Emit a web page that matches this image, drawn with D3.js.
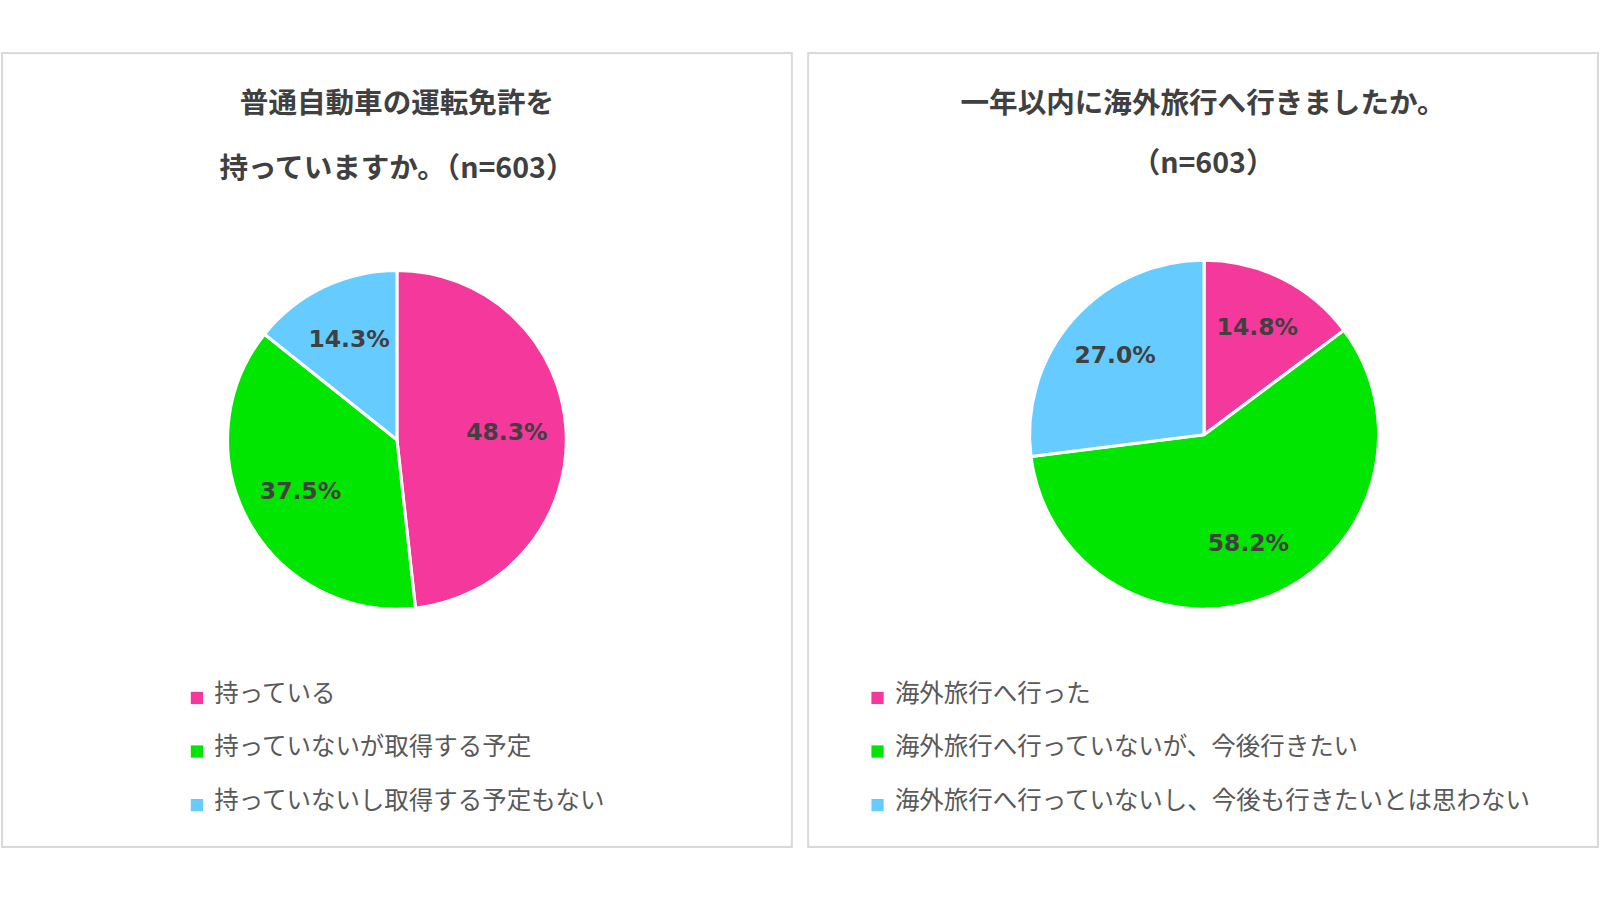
<!DOCTYPE html>
<html><head><meta charset="utf-8">
<script src="https://cdn.jsdelivr.net/npm/d3@7"></script>
<style>body{margin:0;background:#fff}</style>
</head><body>
<svg width="1600" height="900"></svg>
<script>
// data
let leftTitle = ["普通自動車の運転免許を", "持っていますか。（n=603）"];
let leftCats = ["持っている", "持っていないが取得する予定", "持っていないし取得する予定もない"];
let leftVals = [48.3, 37.5, 14.3];
let rightTitle = ["一年以内に海外旅行へ行きましたか。", "（n=603）"];
let rightCats = ["海外旅行へ行った", "海外旅行へ行っていないが、今後行きたい", "海外旅行へ行っていないし、今後も行きたいとは思わない"];
let rightVals = [14.8, 58.2, 27.0];
let colors = ["#F5389B", "#00E600", "#66CCFF"];

let svg = d3.select("svg");
let root = svg.append("g").attr("transform", "scale(1.0204)");
let font = "'Noto Sans CJK JP', 'Noto Sans', sans-serif";

let drawPanel = (px, titles, titleYs, cats, vals, cx, cy, r, legX, labR) => {
  root.append("rect").attr("x", px).attr("y", 52).attr("width", 774).attr("height", 778)
    .attr("fill", "#fff").attr("stroke", "#d9d9d9").attr("stroke-width", 2);
  titles.forEach((t, i) => {
    root.append("text").attr("x", px + 387).attr("y", titleYs[i]).attr("text-anchor", "middle")
      .attr("dominant-baseline", "middle").attr("font-family", font).attr("font-weight", "bold")
      .attr("font-size", 28).attr("fill", "#404040").text(t);
  });
  let pie = d3.pie().sort(null).value((d) => d);
  let arc = d3.arc().innerRadius(0).outerRadius(r);
  let lab = d3.arc().innerRadius(r * labR).outerRadius(r * labR);
  let g = root.append("g").attr("transform", `translate(${cx},${cy})`);
  let arcs = pie(vals);
  g.selectAll("path").data(arcs).enter().append("path")
    .attr("d", arc).attr("fill", (d, i) => colors[i]).attr("stroke", "#fff").attr("stroke-width", 3);
  g.selectAll("text").data(arcs).enter().append("text")
    .attr("transform", (d) => `translate(${lab.centroid(d)})`)
    .attr("text-anchor", "middle").attr("dominant-baseline", "middle")
    .attr("font-family", "'DejaVu Sans', sans-serif").attr("font-weight", "bold")
    .attr("font-size", 23).attr("fill", "#404040").text((d) => d.data.toFixed(1) + "%");
  let ly = d3.scalePoint().domain(cats).range([681, 786]);
  cats.forEach((c, i) => {
    root.append("rect").attr("x", legX).attr("y", ly(c) - 3).attr("width", 12).attr("height", 12).attr("fill", colors[i]);
    root.append("text").attr("x", legX + 23).attr("y", ly(c)).attr("dominant-baseline", "middle")
      .attr("font-family", font).attr("font-size", 24).attr("fill", "#595959").text(c);
  });
};

drawPanel(2, leftTitle, [103, 167], leftCats, leftVals, 389, 431, 166, 187, 0.65);
drawPanel(792, rightTitle, [103, 162], rightCats, rightVals, 1180, 426, 171, 854, 0.68);
</script>
</body></html>
